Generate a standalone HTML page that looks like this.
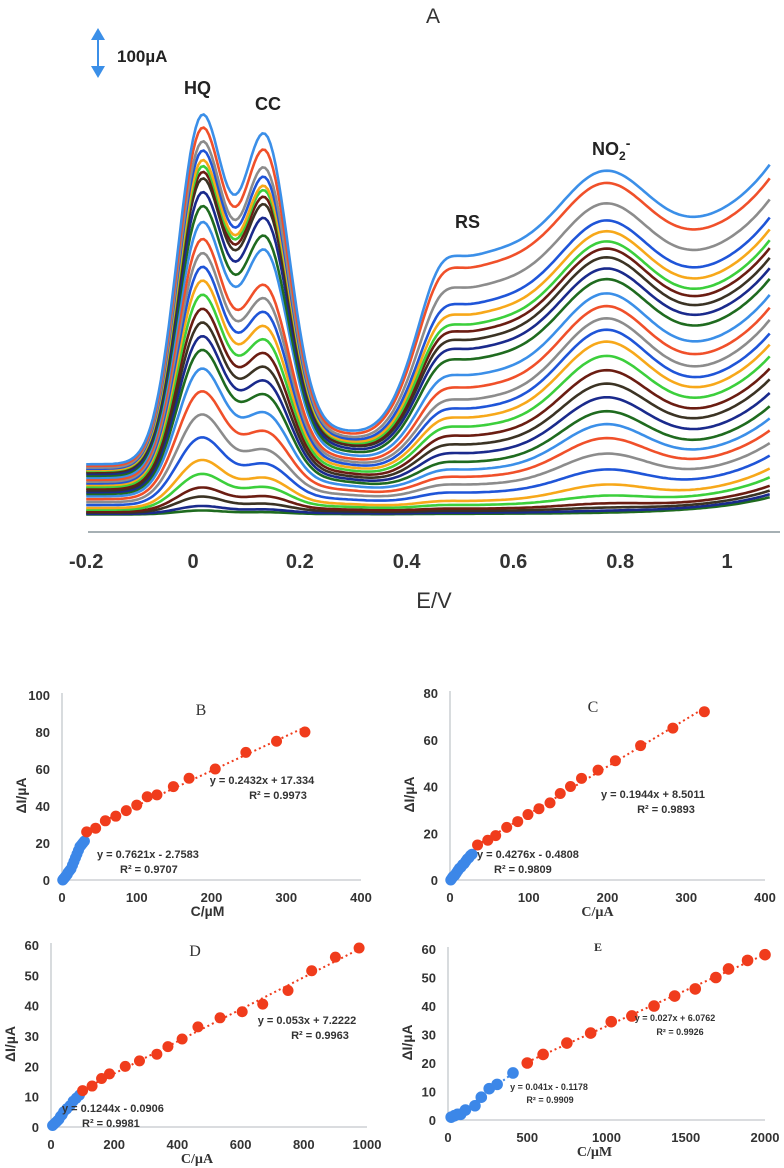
<!DOCTYPE html>
<html><head><meta charset="utf-8">
<style>
html,body{margin:0;padding:0;background:#fff;}
svg{display:block;font-family:"Liberation Sans",sans-serif;}
</style></head>
<body>
<svg id="fig" width="784" height="1168" viewBox="0 0 784 1168">
  <g id="panelA">
    <text x="433" y="23" font-size="21" text-anchor="middle" fill="#333">A</text>
    <g>
      <line x1="98" y1="36" x2="98" y2="70" stroke="#3b8fe8" stroke-width="2"/>
      <polygon points="91,40 98,28 105,40" fill="#3b8fe8"/>
      <polygon points="91,66 98,78 105,66" fill="#3b8fe8"/>
    </g>
    <text x="117" y="62" font-size="17" font-weight="bold" fill="#222">100µA</text>
    <text x="184" y="94" font-size="18" font-weight="bold" fill="#222">HQ</text>
    <text x="255" y="110" font-size="18" font-weight="bold" fill="#222">CC</text>
    <text x="455" y="228" font-size="18" font-weight="bold" fill="#222">RS</text>
    <text x="592" y="155" font-size="18" font-weight="bold" fill="#222">NO<tspan font-size="12" dy="5">2</tspan><tspan font-size="14" dy="-12">-</tspan></text>
    <g id="curves"></g>
    <line x1="88" y1="532" x2="780" y2="532" stroke="#9aa4aa" stroke-width="1.8"/>
    <g id="aTicks"></g>
    <text x="434" y="608" font-size="22" text-anchor="middle" fill="#333">E/V</text>
  </g>
  <g id="panels"></g>
</svg>
<script>
// ---------- Panel A data (peak heights in µA, top curve first) ----------
const aTickLabels = ["-0.2","0","0.2","0.4","0.6","0.8","1"];
const aTickValues = [-0.2,0,0.2,0.4,0.6,0.8,1.0];
const hqPeaks  = [1052,1018,982,958,933,917,902,885,849,813,771,728,691,655,619,582,545,509,473,437,388,328,267,206,146,109,73,49,24,12];
const ccPeaks  = [972,930,884,860,837,826,809,790,755,709,674,581,547,512,476,442,407,372,337,302,256,209,163,128,93,70,47,28,14,7];
const rsPlateau= [628,598,546,502,475,449,431,409,387,361,321,290,260,238,216,194,172,151,130,109,92,77,61,44,26,18,11,7,4,2];
const no2Peaks = [200,200,200,200,200,200,200,200,195,195,200,200,200,195,188,175,162,150,138,125,112,95,75,55,38,20,10,5,2,0];
const tailRise = [234,230,228,225,222,220,218,215,212,212,212,212,212,200,195,188,180,175,162,150,138,125,112,100,88,75,62,55,50,45];
const curveColors = ["#3b8fe8","#f0502a","#8c8c8c","#1f55d8","#f7a81a","#3ccf3c","#6b1d12","#3b3324","#1a2a8c","#1f6b1f"];

const ax = e => 193 + e*534;
const ay = uA => 515 - uA*0.371;
const G = (e,m,s) => Math.exp(-((e-m)*(e-m))/(2*s*s));
const sig = (e,m,w) => 1/(1+Math.exp(-(e-m)/w));

const NS="http://www.w3.org/2000/svg";
const curvesG=document.getElementById('curves');
for(let i=hqPeaks.length-1;i>=0;i--){
  const base=0.13*hqPeaks[i];
  let d="";
  for(let e=-0.2;e<=1.0801;e+=0.005){
    const v = base*(1-0.4*sig(e,0.4,0.04))
      + (hqPeaks[i]-base)*G(e,0.015,0.045)
      + (ccPeaks[i]-base)*G(e,0.135,0.045)
      + base*0.6*G(e,0.25,0.08)
      + rsPlateau[i]*sig(e,0.41,0.035) + rsPlateau[i]*0.1*G(e,0.46,0.03)
      + no2Peaks[i]*G(e,0.77,0.08)
      + tailRise[i]*Math.exp((e-1.08)/0.12);
    d += (d?"L":"M")+ax(e).toFixed(1)+","+ay(v).toFixed(1);
  }
  const p=document.createElementNS(NS,'path');
  p.setAttribute('d',d);
  p.setAttribute('fill','none');
  p.setAttribute('stroke',curveColors[i%curveColors.length]);
  p.setAttribute('stroke-width','2.6');
  
  
  curvesG.appendChild(p);
}
const aTicks=document.getElementById('aTicks');
aTickValues.forEach((v,k)=>{
  const t=document.createElementNS(NS,'text');
  t.setAttribute('x',ax(v)); t.setAttribute('y',568);
  t.setAttribute('font-size','20'); t.setAttribute('font-weight','bold');
  t.setAttribute('fill','#333'); t.setAttribute('text-anchor','middle');
  t.textContent=aTickLabels[k];
  
  
  aTicks.appendChild(t);
});

// ---------- Calibration panels data ----------
const bBlueX=[1,2,3,4,5,7,8,10,12,14,16,18,20,22,24,26,28,30];
const bBlueY=[0,0.5,1,1.5,2,3,4,5,6,8,10,12,14,16,18,19,20,21];
const bRedX=[33,45,58,72,86,100,114,127,149,170,205,246,287,325];
const bRedY=[26,28,32,34.5,37.5,40.5,45,46,50.5,55,60,69,75,80];
const cBlueX=[1,2,3,4,6,8,10,12,14,16,18,20,22,24,26,28];
const cBlueY=[0,0.5,1,1.5,2,3,4,5,5.5,6.5,7,8,9,9.5,10.5,11];
const cRedX=[35,48,58,72,86,99,113,127,140,153,167,188,210,242,283,323];
const cRedY=[15,17,19,22.5,25,28,30.5,33,37,40,43.5,47,51,57.5,65,72];
const dBlueX=[5,10,15,20,25,30,35,40,50,60,70,80,90];
const dBlueY=[0.5,1,1.5,2,2.5,3.5,4,5,6,7,8.5,9.5,10.5];
const dRedX=[100,130,160,185,235,280,335,370,415,465,535,605,670,750,825,900,975];
const dRedY=[12,13.5,16,17.5,20,21.8,24,26.5,29,33,36,38,40.5,45,51.5,56,59];
const eBlueX=[20,40,60,80,110,170,210,260,310,410];
const eBlueY=[1,1.5,2,2,3.5,5,8,11,12.5,16.5];
const eRedX=[500,600,750,900,1030,1160,1300,1430,1560,1690,1770,1890,2000];
const eRedY=[20,23,27,30.5,34.5,36.5,40,43.5,46,50,53,56,58];
const bXTicks=[0,100,200,300,400], bYTicks=[0,20,40,60,80,100];
const cXTicks=[0,100,200,300,400], cYTicks=[0,20,40,60,80];
const dXTicks=[0,200,400,600,800,1000], dYTicks=[0,10,20,30,40,50,60];
const eXTicks=[0,500,1000,1500,2000], eYTicks=[0,10,20,30,40,50,60];

const panelsG=document.getElementById('panels');
function mk(tag,attrs,parent,text){
  const el=document.createElementNS(NS,tag);
  for(const k in attrs) el.setAttribute(k,attrs[k]);
  if(text!==undefined) el.textContent=text;
  parent.appendChild(el); return el;
}
function panel(cfg){
  const g=mk('g',{},panelsG);
  
  
  const sx=v=>cfg.x0+(v-cfg.xmin)/(cfg.xmax-cfg.xmin)*(cfg.x1-cfg.x0);
  const sy=v=>cfg.y0-(v)/(cfg.ymax)*(cfg.y0-cfg.y1);
  const yAx=mk('line',{x1:cfg.x0,y1:cfg.y0,x2:cfg.x0,y2:cfg.y1-2,stroke:'#c4c8cc','stroke-width':1.3},g);
  
  
  const xAx=mk('line',{x1:cfg.x0,y1:cfg.y0,x2:cfg.x1,y2:cfg.y0,stroke:'#c4c8cc','stroke-width':1.3},g);
  
  
  cfg.xt.forEach(v=>{
    const t=mk('text',{x:sx(v),y:cfg.y0+22,'font-size':13,'font-weight':'bold','text-anchor':'middle',fill:'#333'},g,String(v));
    
    
  });
  cfg.yt.forEach(v=>{
    const t=mk('text',{x:cfg.x0-12,y:sy(v)+5,'font-size':13,'font-weight':'bold','text-anchor':'end',fill:'#333'},g,String(v));
    
    
  });
  const yt=mk('text',{x:0,y:0,'font-size':14,'font-weight':'bold','text-anchor':'middle',fill:'#333',transform:`translate(${cfg.x0-36},${(cfg.y0+cfg.y1)/2+8}) rotate(-90)`},g,cfg.ytitle);
  
  
  const xt=mk('text',{x:(cfg.x0+cfg.x1)/2+cfg.xtOff,y:cfg.y0+36,'font-size':14,'font-weight':'bold','text-anchor':'middle',fill:'#333','font-family':cfg.serifX?'"Liberation Serif",serif':'"Liberation Sans",sans-serif'},g,cfg.xtitle);
  
  
  const lt=mk('text',{x:cfg.lx,y:cfg.ly,'font-size':cfg.lfs,'text-anchor':'middle',fill:'#333','font-weight':cfg.lbold?'bold':'normal','font-family':'"Liberation Serif",serif'},g,cfg.id.toUpperCase());
  
  
  [[cfg.bx,cfg.by,'#3c87e8'],[cfg.rx,cfg.ry,'#f03c1c']].forEach(([X,Y,c])=>{
    const n=X.length; let mx=0,my=0; for(let k=0;k<n;k++){mx+=X[k];my+=Y[k];} mx/=n;my/=n;
    let sxy=0,sxx=0; for(let k=0;k<n;k++){sxy+=(X[k]-mx)*(Y[k]-my);sxx+=(X[k]-mx)*(X[k]-mx);}
    const m=sxy/sxx,b=my-m*mx;
    const tl=mk('line',{x1:sx(X[0]),y1:sy(m*X[0]+b),x2:sx(X[n-1]),y2:sy(m*X[n-1]+b),stroke:c,'stroke-width':2,'stroke-dasharray':'2 3'},g);
    
    
  });
  cfg.bx.forEach((v,k)=>{
    const p=mk('circle',{cx:sx(v),cy:sy(cfg.by[k]),r:cfg.r,fill:'#3c87e8'},g);
    
    
  });
  cfg.rx.forEach((v,k)=>{
    const p=mk('circle',{cx:sx(v),cy:sy(cfg.ry[k]),r:cfg.r,fill:'#f03c1c'},g);
    
    
  });
  cfg.eq.forEach(q=>{
    const t=mk('text',{x:q[0],y:q[1],'font-size':q[3],'font-weight':'bold','text-anchor':q[4],fill:'#333'},g,q[2]);
    
    
  });
}
panel({id:'b',x0:62,x1:361,xmin:0,xmax:400,y0:880,y1:695,ymax:100,xt:bXTicks,yt:bYTicks,ytitle:'ΔI/µA',xtitle:'C/µM',xtOff:-4,
  lx:201,ly:715,lfs:16,bx:bBlueX,by:bBlueY,rx:bRedX,ry:bRedY,r:5.5,
  eq:[[262,784,'y = 0.2432x + 17.334',11,'middle'],[278,799,'R² = 0.9973',11,'middle'],[97,858,'y = 0.7621x - 2.7583',11,'start'],[120,873,'R² = 0.9707',11,'start']]});
panel({id:'c',x0:450,x1:765,xmin:0,xmax:400,y0:880,y1:693,ymax:80,xt:cXTicks,yt:cYTicks,ytitle:'ΔI/µA',xtitle:'C/µA',xtOff:-10,serifX:true,
  lx:593,ly:712,lfs:16,bx:cBlueX,by:cBlueY,rx:cRedX,ry:cRedY,r:5.5,
  eq:[[653,798,'y = 0.1944x + 8.5011',11,'middle'],[666,813,'R² = 0.9893',11,'middle'],[477,858,'y = 0.4276x - 0.4808',11,'start'],[494,873,'R² = 0.9809',11,'start']]});
panel({id:'d',x0:51,x1:367,xmin:0,xmax:1000,y0:1127,y1:945,ymax:60,xt:dXTicks,yt:dYTicks,ytitle:'ΔI/µA',xtitle:'C/µA',xtOff:-12,serifX:true,
  lx:195,ly:956,lfs:16,bx:dBlueX,by:dBlueY,rx:dRedX,ry:dRedY,r:5.5,
  eq:[[307,1024,'y = 0.053x + 7.2222',11,'middle'],[320,1039,'R² = 0.9963',11,'middle'],[62,1112,'y = 0.1244x - 0.0906',11,'start'],[82,1127,'R² = 0.9981',11,'start']]});
panel({id:'e',x0:448,x1:765,xmin:0,xmax:2000,y0:1120,y1:949,ymax:60,xt:eXTicks,yt:eYTicks,ytitle:'ΔI/µA',xtitle:'C/µM',xtOff:-12,serifX:true,
  lx:598,ly:951,lfs:12,lbold:true,bx:eBlueX,by:eBlueY,rx:eRedX,ry:eRedY,r:5.8,
  eq:[[675,1021,'y = 0.027x + 6.0762',9,'middle'],[680,1035,'R² = 0.9926',9,'middle'],[549,1090,'y = 0.041x - 0.1178',9,'middle'],[550,1103,'R² = 0.9909',9,'middle']]});
</script>
</body></html>
